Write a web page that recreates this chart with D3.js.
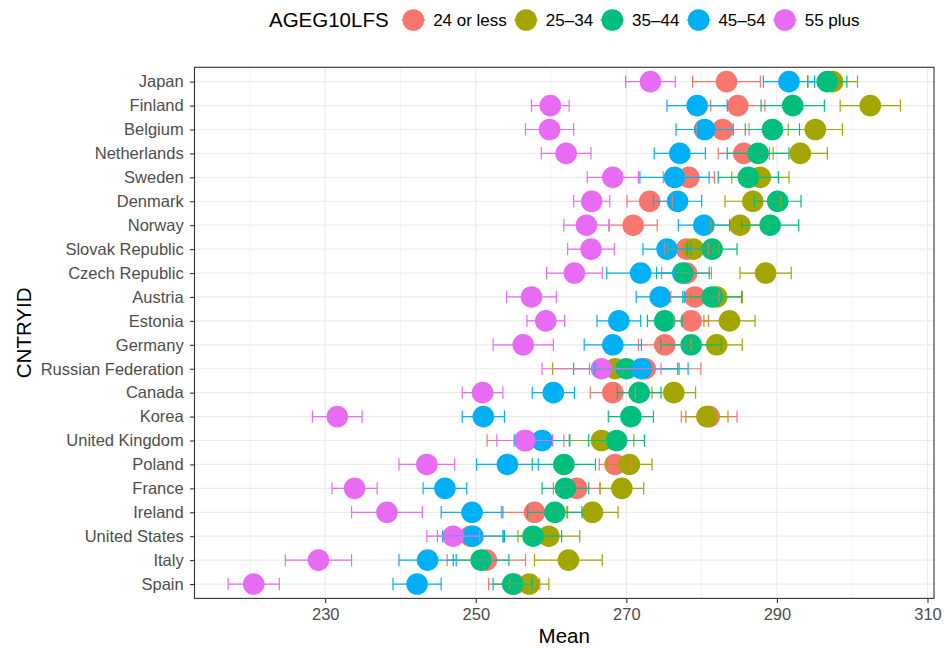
<!DOCTYPE html>
<html>
<head>
<meta charset="utf-8">
<script src="https://cdn.jsdelivr.net/npm/d3@7"></script>
<style>
  html, body { margin: 0; padding: 0; background: #ffffff; }
  svg { display: block; }
  text { font-family: "Liberation Sans", Arial, Helvetica, sans-serif; }
</style>
</head>
<body>
<div id="chart"></div>
<script>
// Countries, listed from top to bottom of the y axis
const countries = [
  "Japan", "Finland", "Belgium", "Netherlands", "Sweden", "Denmark", "Norway",
  "Slovak Republic", "Czech Republic", "Austria", "Estonia", "Germany",
  "Russian Federation", "Canada", "Korea", "United Kingdom", "Poland", "France",
  "Ireland", "United States", "Italy", "Spain"
];

// Age groups (legend order) and their colours
const ageGroups = ["24 or less", "25\u201334", "35\u201344", "45\u201354", "55 plus"];
const groupColors = ["#F8766D", "#A3A500", "#00BF7D", "#00B0F6", "#E76BF3"];

// Mean score per country, one array per age group (same order as countries)
const mean24orLess = [283.3, 284.8, 282.8, 285.6, 278.3, 273.1, 270.9, 278.0, 278.0, 279.1, 278.6, 275.1, 272.5, 268.2, 281.0, 256.6, 268.5, 263.4, 257.8, 249.3, 251.4, 255.1];
const mean25to34   = [297.4, 302.4, 295.1, 293.1, 287.8, 286.8, 285.1, 278.9, 288.5, 282.0, 283.7, 282.0, 268.5, 276.3, 280.7, 266.7, 270.4, 269.4, 265.5, 259.7, 262.3, 257.1];
const mean35to44   = [296.7, 292.1, 289.4, 287.5, 286.2, 290.1, 289.1, 281.4, 277.5, 281.4, 275.1, 278.6, 270.0, 271.7, 270.6, 268.7, 261.7, 261.9, 260.5, 257.6, 250.7, 254.9];
const mean45to54   = [291.6, 279.4, 280.4, 277.1, 276.4, 276.8, 280.3, 275.4, 271.9, 274.5, 269.0, 268.2, 272.0, 260.3, 251.0, 258.8, 254.2, 245.9, 249.5, 249.6, 243.6, 242.2];
const mean55plus   = [273.2, 259.9, 259.8, 262.0, 268.2, 265.4, 264.7, 265.3, 263.1, 257.4, 259.3, 256.3, 266.7, 250.9, 231.6, 256.5, 243.5, 233.9, 238.2, 247.0, 229.1, 220.5];

// Half-width of the confidence interval around each mean
const ci24orLess = [4.5, 3.6, 3.5, 3.4, 3.4, 3.0, 3.2, 2.9, 3.3, 3.2, 2.3, 3.5, 7.4, 3.0, 3.7, 5.1, 2.1, 3.1, 4.4, 4.4, 5.2, 3.4];
const ci25to34   = [3.3, 4.0, 3.6, 3.6, 3.8, 3.7, 3.9, 3.4, 3.4, 3.4, 3.4, 3.4, 8.3, 2.9, 2.8, 4.3, 3.0, 2.9, 3.4, 4.1, 4.5, 2.6];
const ci35to44   = [2.6, 4.2, 3.6, 4.1, 4.0, 3.1, 3.8, 3.3, 3.5, 3.9, 2.3, 4.0, 7.0, 2.9, 3.0, 3.7, 4.2, 3.1, 3.6, 3.8, 3.7, 2.6];
const ci45to54   = [3.4, 4.0, 3.8, 3.4, 4.6, 3.2, 3.4, 3.2, 4.5, 3.2, 2.9, 3.8, 6.2, 2.8, 2.8, 3.7, 4.1, 2.9, 4.1, 4.0, 3.8, 3.2];
const ci55plus   = [3.3, 2.5, 3.2, 3.3, 3.4, 2.4, 3.0, 3.1, 3.7, 3.3, 2.5, 4.0, 7.9, 2.7, 3.3, 3.7, 3.7, 3.0, 4.7, 3.5, 4.4, 3.4];

const xTickValues = [230, 250, 270, 290, 310];
const xMinorValues = [220, 240, 260, 280, 300];

const meansByGroup = [mean24orLess, mean25to34, mean35to44, mean45to54, mean55plus];
const ciByGroup = [ci24orLess, ci25to34, ci35to44, ci45to54, ci55plus];

// Long-format rows: one per country and age group
const rows = [];
countries.forEach((c, ci) => {
  ageGroups.forEach((g, gi) => {
    const m = meansByGroup[gi][ci], h = ciByGroup[gi][ci];
    rows.push({ country: c, group: g, gi: gi, mean: m, lower: m - h, upper: m + h });
  });
});

const W = 944, H = 648;
const panel = { left: 194.5, right: 934, top: 67.3, bottom: 598.4 };

const svg = d3.select("#chart").append("svg")
  .attr("width", W).attr("height", H);

svg.append("rect").attr("width", W).attr("height", H).attr("fill", "#ffffff");

// Continuous x scale with 5% expansion on both sides of the data range
const lo = d3.min(rows, d => d.lower), hi = d3.max(rows, d => d.upper);
const pad = (hi - lo) * 0.05;
const x = d3.scaleLinear().domain([lo - pad, hi + pad]).range([panel.left, panel.right]);

// Discrete y scale with 0.6 of a step added above and below
const y = d3.scalePoint().domain(countries)
  .range([panel.top, panel.bottom]).padding(0.6);

const color = d3.scaleOrdinal().domain(ageGroups).range(groupColors);

// Panel grid
const grid = svg.append("g");
grid.selectAll("line.minor").data(xMinorValues.filter(v => x(v) > panel.left && x(v) < panel.right))
  .join("line").attr("class", "minor")
  .attr("x1", d => x(d)).attr("x2", d => x(d))
  .attr("y1", panel.top).attr("y2", panel.bottom)
  .attr("stroke", "#EBEBEB").attr("stroke-width", 0.6);
grid.selectAll("line.majorx").data(xTickValues)
  .join("line").attr("class", "majorx")
  .attr("x1", d => x(d)).attr("x2", d => x(d))
  .attr("y1", panel.top).attr("y2", panel.bottom)
  .attr("stroke", "#EBEBEB").attr("stroke-width", 1.2);
grid.selectAll("line.majory").data(countries)
  .join("line").attr("class", "majory")
  .attr("x1", panel.left).attr("x2", panel.right)
  .attr("y1", d => y(d)).attr("y2", d => y(d))
  .attr("stroke", "#EBEBEB").attr("stroke-width", 1.2);

// Points
svg.append("g").selectAll("circle").data(rows).join("circle")
  .attr("cx", d => x(d.mean)).attr("cy", d => y(d.country))
  .attr("r", 10.8).attr("fill", d => color(d.group));

// Error bars with end caps
const capH = 6.2;
const eb = svg.append("g").attr("fill", "none").attr("stroke-width", 1.2);
const ebG = eb.selectAll("g").data(rows).join("g").attr("stroke", d => color(d.group));
ebG.append("line")
  .attr("x1", d => x(d.lower)).attr("x2", d => x(d.upper))
  .attr("y1", d => y(d.country)).attr("y2", d => y(d.country));
ebG.append("line")
  .attr("x1", d => x(d.lower)).attr("x2", d => x(d.lower))
  .attr("y1", d => y(d.country) - capH).attr("y2", d => y(d.country) + capH);
ebG.append("line")
  .attr("x1", d => x(d.upper)).attr("x2", d => x(d.upper))
  .attr("y1", d => y(d.country) - capH).attr("y2", d => y(d.country) + capH);

// Panel border
svg.append("rect")
  .attr("x", panel.left).attr("y", panel.top)
  .attr("width", panel.right - panel.left).attr("height", panel.bottom - panel.top)
  .attr("fill", "none").attr("stroke", "#333333").attr("stroke-width", 1.1);

// Axes
const tickFont = "16.5px";
const xAxis = svg.append("g").attr("transform", `translate(0,${panel.bottom})`)
  .call(d3.axisBottom(x).tickValues(xTickValues).tickFormat(d3.format("d")).tickSize(4.5).tickPadding(5.0));
const yAxis = svg.append("g").attr("transform", `translate(${panel.left},0)`)
  .call(d3.axisLeft(y).tickSize(4.5).tickPadding(6.3));
[xAxis, yAxis].forEach(a => {
  a.select(".domain").remove();
  a.selectAll(".tick line").attr("stroke", "#333333").attr("stroke-width", 1.1);
  a.selectAll(".tick text").attr("fill", "#4D4D4D")
    .style("font-size", tickFont).style("font-family", "'Liberation Sans', Arial, sans-serif");
});

// Axis titles
svg.append("text").attr("x", (panel.left + panel.right) / 2).attr("y", 643)
  .attr("text-anchor", "middle").attr("font-size", 20.5).attr("fill", "#000").text("Mean");
svg.append("text")
  .attr("transform", `translate(30.5,${(panel.top + panel.bottom) / 2}) rotate(-90)`)
  .attr("text-anchor", "middle").attr("font-size", 20.5).attr("fill", "#000").text("CNTRYID");

// Legend across the top
const legend = svg.append("g");
const ly = 20;
const lTitle = legend.append("text").attr("y", 27.2).attr("font-size", 20.5).attr("fill", "#000").text("AGEG10LFS");
const titleW = lTitle.node().getComputedTextLength();
const items = ageGroups.map(g => {
  const t = legend.append("text").attr("y", 26).attr("font-size", 17).attr("fill", "#000").text(g);
  return { g, t, w: t.node().getComputedTextLength() };
});
const afterTitle = 24.7, keyToText = 19.8, textToKey = 19.2;
let total = titleW + afterTitle;
items.forEach((it, i) => { total += keyToText + it.w + (i < items.length - 1 ? textToKey : 0); });
let cx = (panel.left + panel.right) / 2 - total / 2;
lTitle.attr("x", cx);
cx += titleW + afterTitle;
items.forEach((it, i) => {
  legend.append("circle").attr("cx", cx).attr("cy", ly).attr("r", 10.8).attr("fill", color(it.g));
  legend.append("line").attr("x1", cx - 12).attr("x2", cx + 12).attr("y1", ly).attr("y2", ly)
    .attr("stroke", color(it.g)).attr("stroke-width", 1.1);
  it.t.attr("x", cx + keyToText);
  cx += keyToText + it.w + textToKey;
});
</script>
</body>
</html>
